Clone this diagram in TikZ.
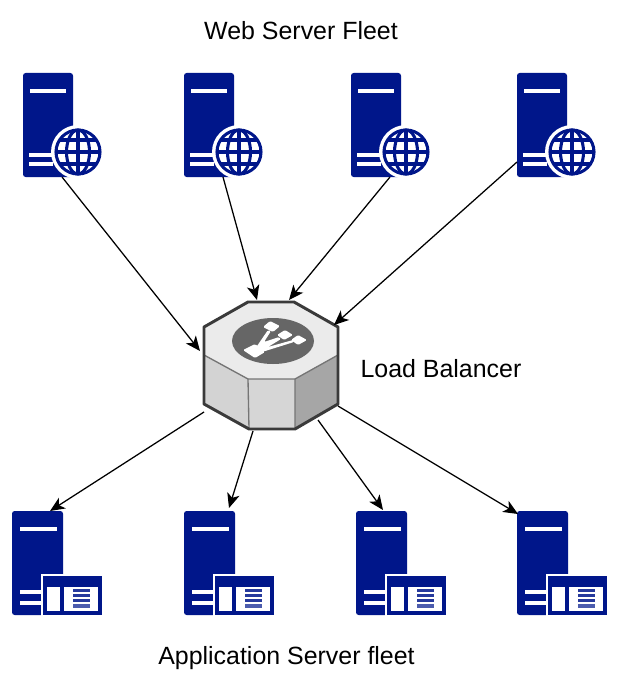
\documentclass[tikz,border=0pt]{standalone}
\usepackage{fontspec}
\setmainfont{Liberation Sans}
\usetikzlibrary{arrows.meta}
\definecolor{navy}{HTML}{00168A}
\definecolor{lbtop}{HTML}{EBEBEB}
\definecolor{lbleft}{HTML}{D3D3D3}
\definecolor{lbmid}{HTML}{D6D6D6}
\definecolor{lbright}{HTML}{A6A6A6}
\definecolor{lbedge}{HTML}{3A3A3A}
\definecolor{lbicon}{HTML}{666666}
\tikzset{
  x=0.75pt,y=-0.75pt,
  link/.style={draw=black,line width=0.95pt,-{Stealth[length=11pt,width=9.5pt,inset=3pt]}},
  body/.style={fill=navy,draw=none,rounded corners=2pt},
  bar/.style={fill=white,draw=none},
  caption/.style={font=\fontsize{18.7pt}{21pt}\selectfont,inner sep=0pt,anchor=center},
  servernode/.style={draw=none,inner sep=0pt,minimum width=37.5pt,minimum height=78pt},
  pics/webserver/.style={code={
    \fill[body] (0,0) rectangle (50,104);
    \fill[bar] (7,16) rectangle (43,20);
    \fill[bar] (6,80) rectangle (30,84);
    \fill[bar] (6,89) rectangle (30,93);
    \fill[white] (55,79) circle[radius=27];
    \begin{scope}[navy,line width=2.3pt]
      \draw (55,79) circle[radius=22];
      \draw (55,79) ellipse[x radius=11.5,y radius=22];
      \draw (55,57) -- (55,101);
      \draw (33,79) -- (77,79);
      \draw (37,67) -- (73,67);
      \draw (37,91) -- (73,91);
    \end{scope}
  }},
  pics/appserver/.style={code={
    \fill[body] (0,0) rectangle (51,104);
    \fill[bar] (8,16) rectangle (45,20);
    \fill[bar] (8,79) rectangle (29,83);
    \fill[bar] (8,90) rectangle (29,94);
    \fill[white] (29,63) rectangle (92,106);
    \fill[navy] (31,65) rectangle (90,104);
    \fill[white] (35,76) rectangle (48,100);
    \fill[white] (52,76) rectangle (86,100);
    \fill[navy!85] (61,78) rectangle (78,81);
    \fill[navy!85] (61,83) rectangle (78,86);
    \fill[navy!85] (61,88) rectangle (78,91);
    \fill[navy!70] (61,93) rectangle (78,97);
  }}
}
\begin{document}
\begin{tikzpicture}
\useasboundingbox (0,0) rectangle (617,688);
\fill[white] (0,0) rectangle (617,688);

% web servers
\node[servernode] (w1) at (48,125) {};
\node[servernode] (w2) at (209,125) {};
\node[servernode] (w3) at (376,125) {};
\node[servernode] (w4) at (542,125) {};
\pic at (23,73) {webserver};
\pic at (184,73) {webserver};
\pic at (351,73) {webserver};
\pic at (517,73) {webserver};

% application servers
\node[servernode] (a1) at (38,563) {};
\node[servernode] (a2) at (210,563) {};
\node[servernode] (a3) at (382,563) {};
\node[servernode] (a4) at (543,563) {};
\pic at (12,511) {appserver};
\pic at (184,511) {appserver};
\pic at (356,511) {appserver};
\pic at (517,511) {appserver};

% load balancer
\node[draw=none,inner sep=0pt,minimum width=100pt,minimum height=95pt] (lb) at (271,365) {};
\fill[lbtop] (248,302) -- (294,302) -- (338,327) -- (338,355) -- (295,379) -- (248,379) -- (204,355) -- (204,327) -- cycle;
\fill[lbleft] (204,355) -- (248,379) -- (249,429) -- (204,404) -- cycle;
\fill[lbmid] (248,379) -- (295,379) -- (295,429) -- (249,429) -- cycle;
\fill[lbright] (295,379) -- (338,355) -- (338,404) -- (295,429) -- cycle;
\draw[lbedge!70,line width=1pt] (204,355) -- (248,379) -- (295,379) -- (338,355);
\draw[lbedge!70,line width=1pt] (248,379) -- (249,429) (295,379) -- (295,429);
\draw[lbedge,line width=2.2pt,line join=round] (248,302) -- (294,302) -- (338,327) -- (338,404) -- (295,429) -- (249,429) -- (204,404) -- (204,327) -- cycle;
\fill[lbicon] (273,341) ellipse[x radius=41,y radius=23];
\begin{scope}[white,rounded corners=1pt]
  \fill (243,350) -- (255,344) -- (265,352) -- (255,358) -- cycle;
  \fill (263,327) -- (270,321) -- (280,326) -- (273,332) -- cycle;
  \fill (277,335) -- (285,330) -- (293,335) -- (284,340) -- cycle;
  \fill (291,340) -- (298,335) -- (307,340) -- (298,345) -- cycle;
  \fill (255,349) -- (268,330) -- (271,331) -- (264,342) -- (279,337) -- (281,339) -- (268,347) -- (293,340) -- (294,342) -- (262,352) -- cycle;
\end{scope}

% labels
\node[caption] (t1) at (301,30.5) {Web Server Fleet};
\node[caption] (t2) at (441,368.5) {Load Balancer};
\node[caption] (t3) at (286.5,658) {Application Server fleet};

% connector ends
\coordinate (lb1) at (200,351);
\coordinate (lb2) at (257,300);
\coordinate (lb3) at (289,300);
\coordinate (lb4) at (334,325);
\coordinate (lb5) at (204,412);
\coordinate (lb6) at (253,431);
\coordinate (lb7) at (318,420);
\coordinate (lb8) at (338,406);
\coordinate (e1) at (62,177);
\coordinate (e2) at (223,177);
\coordinate (e3) at (390,177);
\coordinate (e4) at (517,162);
\coordinate (s1) at (50,511);
\coordinate (s2) at (229,508);
\coordinate (s3) at (383,510);
\coordinate (s4) at (518,514);

\draw[link] (e1) -- (lb1);
\draw[link] (e2) -- (lb2);
\draw[link] (e3) -- (lb3);
\draw[link] (e4) -- (lb4);
\draw[link] (lb5) -- (s1);
\draw[link] (lb6) -- (s2);
\draw[link] (lb7) -- (s3);
\draw[link] (lb8) -- (s4);
\end{tikzpicture}
\end{document}
